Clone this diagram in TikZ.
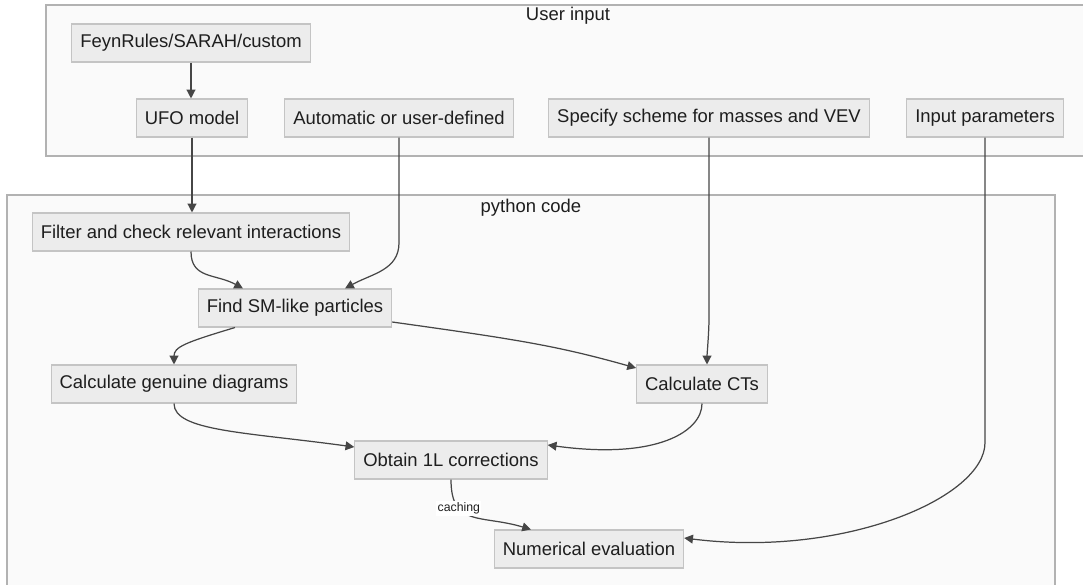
\documentclass[tikz,border=0pt]{standalone}
\usepackage{fontspec}
\setmainfont{Liberation Sans}
\usepackage{xcolor}
\definecolor{fgtext}{RGB}{30,30,30}
\definecolor{boxfill}{RGB}{236,236,236}
\definecolor{boxline}{RGB}{196,196,196}
\definecolor{clfill}{RGB}{250,250,250}
\definecolor{clline}{RGB}{178,178,178}
\definecolor{edge}{RGB}{70,70,70}
\usetikzlibrary{arrows.meta, calc}

\begin{document}
\begin{tikzpicture}[
    every node/.style={font=\fontsize{10.5}{12.6}\selectfont, text=fgtext},
    box/.style={draw=boxline, fill=boxfill, line width=0.6pt,
                minimum height=0.76cm, inner xsep=0.17cm, inner ysep=0pt},
    cluster/.style={draw=clline, fill=clfill, line width=0.6pt},
    arr/.style={-{Triangle[length=5pt, width=5pt]}, line width=0.7pt, draw=edge},
    lbl/.style={font=\fontsize{7}{8}\selectfont, fill=white, inner sep=0.8pt},
]
\useasboundingbox (0,0) rectangle (21.66,-11.70);

% ===== clusters =====
\draw[cluster] (0.92,-0.10) rectangle (21.72,-3.12);
\node (userlbl) at (11.36,-0.32) {User input};
\draw[cluster] (0.14,-3.90) rectangle (21.10,-12.00);
\node (pylbl) at (10.62,-4.16) {python code};

% ===== user input =====
\node[box] (feyn)   at (3.82,-0.86)  {FeynRules/SARAH/custom};
\node[box] (ufo)    at (3.84,-2.36)  {UFO model};
\node[box] (auto)   at (7.98,-2.36)  {Automatic or user-defined};
\node[box] (scheme) at (14.18,-2.36) {Specify scheme for masses and VEV};
\node[box] (inpar)  at (19.70,-2.36) {Input parameters};

% ===== python code =====
\node[box] (filter)  at (3.82,-4.64)  {Filter and check relevant interactions};
\node[box] (findsm)  at (5.90,-6.16)  {Find SM-like particles};
\node[box] (genuine) at (3.48,-7.68)  {Calculate genuine diagrams};
\node[box] (cts)     at (14.04,-7.68) {Calculate CTs};
\node[box] (oneloop) at (9.02,-9.20)  {Obtain 1L corrections};
\node[box] (numeval) at (11.78,-10.98) {Numerical evaluation};

% edges
\draw[arr] (feyn.south) -- (feyn.south |- ufo.north);
\draw[arr] (ufo.south) -- (ufo.south |- filter.north);
\draw[arr] (filter.south) .. controls +(0,-0.55) and +(-0.55,0.3) .. ([xshift=-1.04cm]findsm.north);
\draw[arr] (auto.south) -- ++(0,-2.1) .. controls +(0,-0.55) and +(0.55,0.3) .. ([xshift=1.0cm]findsm.north);
\draw[arr] ([xshift=-1.2cm]findsm.south) .. controls +(-1.0,-0.3) and +(0,0.35) .. (genuine.north);
\draw[arr] ([yshift=-0.28cm]findsm.east) .. controls +(2.5,-0.35) and +(-1.6,0.45) .. ([yshift=0.32cm]cts.west);
\draw[arr] (scheme.south) -- ++(0,-3.6) .. controls +(0,-0.3) and +(0,0.2) .. ([xshift=0.1cm]cts.north);
\draw[arr] (genuine.south) .. controls +(0,-0.55) and +(-2.2,0.3) .. ([yshift=0.26cm]oneloop.west);
\draw[arr] (cts.south) .. controls +(0,-0.55) and +(2.2,-0.3) .. ([yshift=0.3cm]oneloop.east);
\draw[arr] (oneloop.south) .. controls +(0,-0.95) and +(-1.0,0.3) .. ([xshift=-1.16cm]numeval.north)
      node[lbl, pos=0.3] (cachelbl) {caching};
\draw[arr] (inpar.south) -- ++(0,-6.1) .. controls +(0,-1.1) and +(3.2,-0.4) .. ([yshift=0.22cm]numeval.east);

\end{tikzpicture}
\end{document}
